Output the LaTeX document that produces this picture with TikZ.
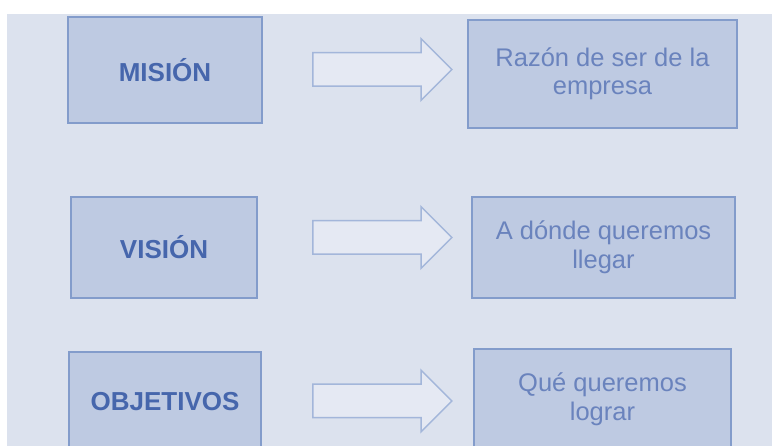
\documentclass[tikz,border=0pt]{standalone}
\usepackage{fontspec}
\setmainfont{Liberation Sans}
\usepackage{xcolor}
\usetikzlibrary{shapes.arrows}
\definecolor{bg}{HTML}{DCE2EE}
\definecolor{boxfill}{HTML}{BECAE2}
\definecolor{boxline}{HTML}{839CCB}
\definecolor{labtext}{HTML}{4666AC}
\definecolor{destext}{HTML}{6A83BD}
\definecolor{arrfill}{HTML}{E5E9F3}
\definecolor{arrline}{HTML}{A3B6DA}

\begin{document}
\begin{tikzpicture}[x=1pt,y=-1pt]
      \useasboundingbox(0,0) rectangle (772,446);
      \tikzset{L/.style = {shape=rectangle, draw=boxline, fill=boxfill, line width=2.5pt, text=labtext, font=\fontsize{26}{29}\selectfont\bfseries}}
      \tikzset{R/.style = {shape=rectangle, draw=boxline, fill=boxfill, line width=2.5pt, text=destext, align=center, font=\fontsize{25.5}{28.5}\selectfont}}
      \tikzset{A/.style = {shape=single arrow, draw=arrline, fill=arrfill, line width=1.5pt, minimum height=139pt, inner xsep=0pt, inner ysep=16pt, single arrow head extend=14pt, single arrow head indent=0pt}}
      \fill[white](0,0) rectangle (772,446);
      \fill[bg](7,14) rectangle (772,446);
      \node[L,minimum width=194pt,minimum height=106pt](l0) at (165,70) {MISIÓN};
      \node[L,minimum width=186pt,minimum height=101pt](l1) at (164,247.5) {VISIÓN};
      \node[L,minimum width=192pt,minimum height=100pt](l2) at (165,402) {OBJETIVOS};
      \node[R,minimum width=269pt,minimum height=108pt](r0) at (602.5,74) {Razón de ser de la\\empresa};
      \node[R,minimum width=263pt,minimum height=101pt](r1) at (603.5,247.5) {A dónde queremos\\llegar};
      \node[R,minimum width=257pt,minimum height=101pt](r2) at (602.5,399.5) {Qué queremos\\lograr};
      \node[A](a0) at (374,69.5) {};
      \node[A](a1) at (374,237.5) {};
      \node[A](a2) at (374,401) {};
%     \draw[arrline,dashed](l0) to (r0);
    \end{tikzpicture}
\end{document}
